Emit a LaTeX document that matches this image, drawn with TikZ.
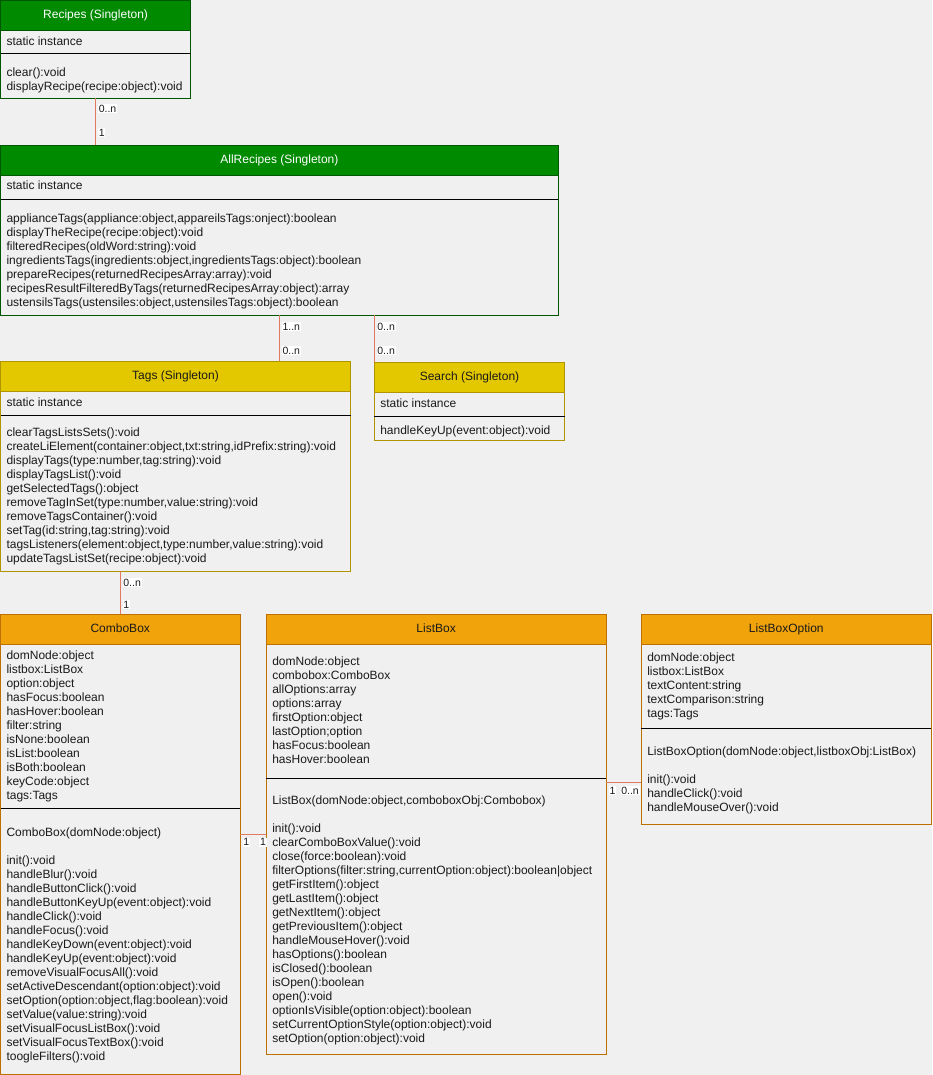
\documentclass[tikz,border=0pt]{standalone}
\usepackage{fontspec}
\setmainfont{Liberation Sans}

\definecolor{canvas}{HTML}{F0F0F0}
\definecolor{greenfill}{HTML}{008A00}
\definecolor{greenline}{HTML}{005700}
\definecolor{yellowfill}{HTML}{E3C800}
\definecolor{yellowline}{HTML}{B09500}
\definecolor{orangefill}{HTML}{F0A30A}
\definecolor{orangeline}{HTML}{BD7000}
\definecolor{linkline}{HTML}{E07A5F}
\definecolor{ink}{HTML}{1A1A1A}

\newcommand\umlheadfont{\fontsize{12}{14}\selectfont}
\newcommand\umlmemberfont{\fontsize{12}{14}\selectfont}
\newcommand\umlmultfont{\fontsize{10.5}{12}\selectfont}

\tikzset{
  classbody/.style={draw, fill=canvas, line width=1pt, inner sep=0pt, outer sep=0pt, anchor=north west},
  classhead/.style={draw, line width=1pt, inner sep=0pt, outer sep=0pt, anchor=north west,
    minimum height=30pt, text height=9pt, text depth=3pt, font=\umlheadfont},
  member/.style={anchor=base west, inner sep=0pt, outer sep=0pt, text=ink, font=\umlmemberfont},
  mult/.style={anchor=base west, fill=white, inner xsep=0.8pt, inner ysep=0.8pt, outer sep=0pt,
    text=ink, font=\umlmultfont},
  assoc/.style={draw=linkline, line width=1pt},
  divider/.style={draw=black, line width=1pt}
}

% class box: name, left, top, width, height, header fill, border, title, title colour
\newcommand\umlclass[9]{%
  \node[classbody, draw=#7, minimum width=#4pt, minimum height=#5pt] (#1) at (#2,#3) {};
  \node[classhead, fill=#6, draw=#7, text=#9, minimum width=#4pt] (#1-head) at (#2,#3) {#8};
}
% horizontal divider inside a class box at height y
\newcommand\umldivider[2]{%
  \coordinate (#1-div) at (0,#2);
  \draw[divider] (#1.west |- #1-div) -- (#1.east |- #1-div);
}
% list of members: name prefix, box left, first baseline, entries
\newcommand\umlmembers[4]{%
  \foreach \memb [count=\i from 0] in {#4}
    \node[member] (#1-\i) at ({#2+6},{#3+14*\i}) {\memb};
}

\begin{document}
\begin{tikzpicture}[x=1pt, y=-1pt]
  \fill[canvas] (0,0) rectangle (932,1075);
  \useasboundingbox (0,0) rectangle (932,1075);

  % ---------- Recipes ----------
  \umlclass{recipes}{0.5}{0.5}{190.2}{97.8}{greenfill}{greenline}{Recipes (Singleton)}{white}
  \umldivider{recipes}{54}
  \umlmembers{recipes-a}{0.5}{45.5}{static instance}
  \umlmembers{recipes-m}{0.5}{76.3}{clear():void, displayRecipe(recipe:object):void}

  % ---------- AllRecipes ----------
  \umlclass{allrecipes}{0.5}{145.4}{557.8}{169.8}{greenfill}{greenline}{AllRecipes (Singleton)}{white}
  \umldivider{allrecipes}{199.3}
  \umlmembers{allrecipes-a}{0.5}{189.8}{static instance}
  \umlmembers{allrecipes-m}{0.5}{222.5}{%
    {applianceTags(appliance:object,appareilsTags:onject):boolean},
    displayTheRecipe(recipe:object):void,
    filteredRecipes(oldWord:string):void,
    {ingredientsTags(ingredients:object,ingredientsTags:object):boolean},
    prepareRecipes(returnedRecipesArray:array):void,
    recipesResultFilteredByTags(returnedRecipesArray:object):array,
    {ustensilsTags(ustensiles:object,ustensilesTags:object):boolean}}

  % ---------- Tags ----------
  \umlclass{tags}{0.5}{361.2}{350}{210}{yellowfill}{yellowline}{Tags (Singleton)}{ink}
  \umldivider{tags}{415}
  \umlmembers{tags-a}{0.5}{406}{static instance}
  \umlmembers{tags-m}{0.5}{436.3}{%
    clearTagsListsSets():void,
    {createLiElement(container:object,txt:string,idPrefix:string):void},
    {displayTags(type:number,tag:string):void},
    displayTagsList():void,
    getSelectedTags():object,
    {removeTagInSet(type:number,value:string):void},
    removeTagsContainer():void,
    {setTag(id:string,tag:string):void},
    {tagsListeners(element:object,type:number,value:string):void},
    updateTagsListSet(recipe:object):void}

  % ---------- Search ----------
  \umlclass{search}{374.3}{362.3}{190.4}{77.7}{yellowfill}{yellowline}{Search (Singleton)}{ink}
  \umldivider{search}{416.7}
  \umlmembers{search-a}{374.3}{407}{static instance}
  \umlmembers{search-m}{374.3}{434.3}{handleKeyUp(event:object):void}

  % ---------- ComboBox ----------
  \umlclass{combobox}{0.5}{614.3}{239.5}{459.7}{orangefill}{orangeline}{ComboBox}{ink}
  \umldivider{combobox}{808.3}
  \umlmembers{combobox-a}{0.5}{659.5}{%
    domNode:object, listbox:ListBox, option:object, hasFocus:boolean, hasHover:boolean,
    filter:string, isNone:boolean, isList:boolean, isBoth:boolean, keyCode:object, tags:Tags}
  \umlmembers{combobox-c}{0.5}{836.2}{ComboBox(domNode:object)}
  \umlmembers{combobox-m}{0.5}{864.2}{%
    init():void, handleBlur():void, handleButtonClick():void,
    handleButtonKeyUp(event:object):void, handleClick():void, handleFocus():void,
    handleKeyDown(event:object):void, handleKeyUp(event:object):void,
    removeVisualFocusAll():void, setActiveDescendant(option:object):void,
    {setOption(option:object,flag:boolean):void}, setValue(value:string):void,
    setVisualFocusListBox():void, setVisualFocusTextBox():void, toogleFilters():void}

  % ---------- ListBox ----------
  \umlclass{listbox}{266.3}{614.3}{339.7}{439.7}{orangefill}{orangeline}{ListBox}{ink}
  \umldivider{listbox}{778.3}
  \umlmembers{listbox-a}{266.3}{665.2}{%
    domNode:object, combobox:ComboBox, allOptions:array, options:array,
    firstOption:object, lastOption;option, hasFocus:boolean, hasHover:boolean}
  \umlmembers{listbox-c}{266.3}{804.4}{{ListBox(domNode:object,comboboxObj:Combobox)}}
  \umlmembers{listbox-m}{266.3}{832.4}{%
    init():void, clearComboBoxValue():void, close(force:boolean):void,
    {filterOptions(filter:string,currentOption:object):boolean|object},
    getFirstItem():object, getLastItem():object, getNextItem():object,
    getPreviousItem():object, handleMouseHover():void, hasOptions():boolean,
    isClosed():boolean, isOpen():boolean, open():void,
    optionIsVisible(option:object):boolean, setCurrentOptionStyle(option:object):void,
    setOption(option:object):void}

  % ---------- ListBoxOption ----------
  \umlclass{listboxoption}{641.3}{614.3}{290}{209.7}{orangefill}{orangeline}{ListBoxOption}{ink}
  \umldivider{listboxoption}{728.3}
  \umlmembers{listboxoption-a}{641.3}{661.2}{%
    domNode:object, listbox:ListBox, textContent:string, textComparison:string, tags:Tags}
  \umlmembers{listboxoption-c}{641.3}{755.2}{{ListBoxOption(domNode:object,listboxObj:ListBox)}}
  \umlmembers{listboxoption-m}{641.3}{783.2}{init():void, handleClick():void, handleMouseOver():void}

  % ---------- associations ----------
  \coordinate (recipes-link) at (95.3,0);
  \draw[assoc] (recipes.south -| recipes-link) -- (allrecipes.north -| recipes-link);
  \node[mult] (recipes-mult-top) at (98,112.5) {0..n};
  \node[mult] (recipes-mult-bot) at (98,136.2) {1};

  \coordinate (tags-link) at (279.3,0);
  \draw[assoc] (allrecipes.south -| tags-link) -- (tags.north -| tags-link);
  \node[mult] (tags-mult-top) at (281.7,330.2) {1..n};
  \node[mult] (tags-mult-bot) at (281.7,354.2) {0..n};

  \coordinate (search-link) at (374.3,0);
  \draw[assoc] (allrecipes.south -| search-link) -- (search.north -| search-link);
  \node[mult] (search-mult-top) at (376.6,330.2) {0..n};
  \node[mult] (search-mult-bot) at (376.6,354.2) {0..n};

  \coordinate (combobox-link) at (120.3,0);
  \draw[assoc] (tags.south -| combobox-link) -- (combobox.north -| combobox-link);
  \node[mult] (combobox-mult-top) at (122.6,586.2) {0..n};
  \node[mult] (combobox-mult-bot) at (122.6,608.5) {1};

  \coordinate (listbox-link) at (0,834.3);
  \draw[assoc] (combobox.east |- listbox-link) -- (listbox.west |- listbox-link);
  \node[mult] (listbox-mult-left) at (242.5,845.9) {1};
  \node[mult] (listbox-mult-right) at (259.4,845.9) {1};

  \coordinate (option-link) at (0,782.7);
  \draw[assoc] (listbox.east |- option-link) -- (listboxoption.west |- option-link);
  \node[mult] (option-mult-left) at (608.8,794.2) {1};
  \node[mult] (option-mult-right) at (620.5,794.2) {0..n};
\end{tikzpicture}
\end{document}
